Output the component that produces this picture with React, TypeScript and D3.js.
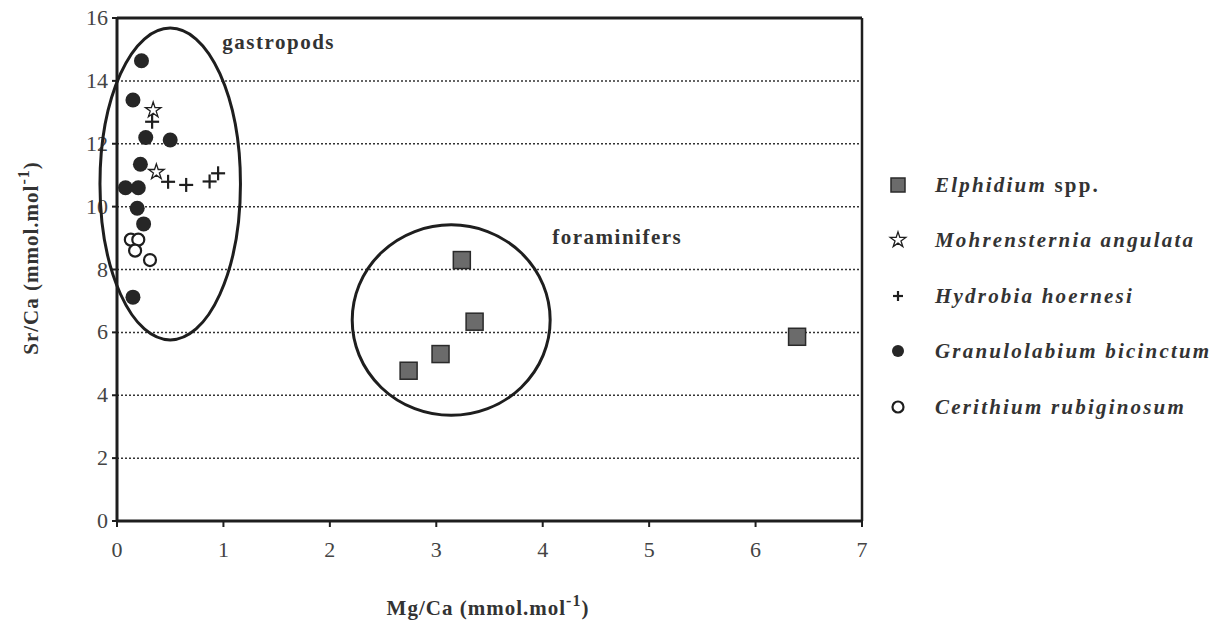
import React from "react";
import * as d3 from "d3";

const xTicks = [0, 1, 2, 3, 4, 5, 6, 7];
const yTicks = [0, 2, 4, 6, 8, 10, 12, 14, 16];

const elphidium: [number, number][] = [
  [3.24, 8.3], [3.36, 6.34], [3.04, 5.31], [2.74, 4.78], [6.39, 5.86],
];
const mohrensternia: [number, number][] = [
  [0.34, 13.07], [0.37, 11.1],
];
const hydrobia: [number, number][] = [
  [0.33, 12.7], [0.48, 10.79], [0.65, 10.69], [0.95, 11.06], [0.87, 10.8],
];
const granulolabium: [number, number][] = [
  [0.23, 14.64], [0.15, 13.39], [0.27, 12.2], [0.5, 12.12], [0.22, 11.35],
  [0.08, 10.6], [0.2, 10.6], [0.19, 9.95], [0.25, 9.45], [0.15, 7.12],
];
const cerithium: [number, number][] = [
  [0.13, 8.95], [0.2, 8.95], [0.17, 8.6], [0.31, 8.3],
];

const legendLabels = [
  ["Elphidium", " spp."],
  ["Mohrensternia angulata", ""],
  ["Hydrobia hoernesi", ""],
  ["Granulolabium bicinctum", ""],
  ["Cerithium rubiginosum", ""],
];

// ellipses: [cx, cy, rx, ry] in data units
const groups = [
  { name: "gastropods", e: [0.5, 10.72, 0.66, 4.96], lx: 0.99, ly: 15.0 },
  { name: "foraminifers", e: [3.14, 6.39, 0.93, 3.03], lx: 4.09, ly: 8.8 },
];

const W = 1231;
const H = 628;
const left = 117;
const right = 862;
const top = 18;
const bottom = 521;

const x = d3.scaleLinear().domain([0, 7]).range([left, right]);
const y = d3.scaleLinear().domain([0, 16]).range([bottom, top]);

const font = "'Liberation Serif', 'Times New Roman', serif";
const ink = "#1e1e1e";

const starPath = d3.symbol().type(d3.symbolStar).size(75)()!;

function Square({ cx, cy, s }: { cx: number; cy: number; s: number }) {
  return (
    <rect x={cx - s / 2} y={cy - s / 2} width={s} height={s} fill="#6b6b6b" stroke="#2a2a2a" strokeWidth={1.5} />
  );
}
function Plus({ cx, cy, r }: { cx: number; cy: number; r: number }) {
  return (
    <g stroke={ink} strokeWidth={2.2}>
      <line x1={cx - r} x2={cx + r} y1={cy} y2={cy} />
      <line x1={cx} x2={cx} y1={cy - r} y2={cy + r} />
    </g>
  );
}
function Star({ cx, cy }: { cx: number; cy: number }) {
  return <path d={starPath} transform={`translate(${cx},${cy})`} fill="white" stroke={ink} strokeWidth={1.3} />;
}

export default function App() {
  const legendY = [185, 240, 296, 351, 407];
  const lx = 898;
  return (
    <svg width={W} height={H} style={{ position: "absolute", left: 0, top: 0, background: "white" }} fontFamily={font}>
      {/* grid */}
      {yTicks.filter((t) => t > 0 && t < 16).map((t) => (
        <line key={t} x1={left} x2={right} y1={y(t)} y2={y(t)} stroke="#333" strokeWidth={1.5} strokeDasharray="2,2" />
      ))}
      {/* frame */}
      <line x1={left} x2={right} y1={top} y2={top} stroke={ink} strokeWidth={3} />
      <line x1={right} x2={right} y1={top} y2={bottom} stroke={ink} strokeWidth={2.5} />
      <line x1={left} x2={right} y1={bottom} y2={bottom} stroke={ink} strokeWidth={3} />
      <line x1={left} x2={left} y1={top} y2={bottom} stroke={ink} strokeWidth={3} />
      {/* ticks */}
      {xTicks.map((t) => (
        <g key={t}>
          <line x1={x(t)} x2={x(t)} y1={bottom} y2={bottom + 6} stroke={ink} strokeWidth={2} />
          <text x={x(t)} y={bottom + 36} textAnchor="middle" fontSize={22} fill="#444">{t}</text>
        </g>
      ))}
      {yTicks.map((t) => (
        <g key={t}>
          <line x1={left - 5} x2={left} y1={y(t)} y2={y(t)} stroke={ink} strokeWidth={2} />
          <text x={left - 9} y={y(t) + 7} textAnchor="end" fontSize={22} fill="#444">{t}</text>
        </g>
      ))}
      {/* axis titles */}
      <text x={488} y={615} textAnchor="middle" fontSize={21} fontWeight="bold" fill="#333" letterSpacing={1}>
        Mg/Ca (mmol.mol<tspan dy={-9} fontSize={16}>-1</tspan><tspan dy={9}>)</tspan>
      </text>
      <text transform="translate(38,258) rotate(-90)" textAnchor="middle" fontSize={21} fontWeight="bold" fill="#333" letterSpacing={1}>
        Sr/Ca (mmol.mol<tspan dy={-9} fontSize={16}>-1</tspan><tspan dy={9}>)</tspan>
      </text>
      {/* group ellipses */}
      {groups.map((g) => (
        <g key={g.name}>
          <ellipse cx={x(g.e[0])} cy={y(g.e[1])} rx={x(g.e[2]) - x(0)} ry={y(0) - y(g.e[3])} fill="none" stroke={ink} strokeWidth={3} />
          <text x={x(g.lx)} y={y(g.ly)} fontSize={21} fontWeight="bold" fill="#333" letterSpacing={1.5}>{g.name}</text>
        </g>
      ))}
      {/* points */}
      {elphidium.map((d, i) => <Square key={"e" + i} cx={x(d[0])} cy={y(d[1])} s={17} />)}
      {granulolabium.map((d, i) => <circle key={"g" + i} cx={x(d[0])} cy={y(d[1])} r={7.5} fill="#262626" />)}
      {cerithium.map((d, i) => <circle key={"c" + i} cx={x(d[0])} cy={y(d[1])} r={6} fill="white" stroke={ink} strokeWidth={2.2} />)}
      {hydrobia.map((d, i) => <Plus key={"h" + i} cx={x(d[0])} cy={y(d[1])} r={7} />)}
      {mohrensternia.map((d, i) => <Star key={"m" + i} cx={x(d[0])} cy={y(d[1])} />)}
      {/* legend */}
      {legendLabels.map((l, i) => {
        const cy = legendY[i];
        return (
          <g key={i}>
            {i === 0 && <Square cx={lx} cy={cy} s={14} />}
            {i === 1 && <Star cx={lx} cy={cy} />}
            {i === 2 && <Plus cx={lx} cy={cy} r={5} />}
            {i === 3 && <circle cx={lx} cy={cy} r={6} fill="#262626" />}
            {i === 4 && <circle cx={lx} cy={cy} r={5.5} fill="white" stroke={ink} strokeWidth={2.2} />}
            <text x={lx + 37} y={cy + 7} fontSize={21} fontWeight="bold" fill="#333" letterSpacing={2.2}>
              <tspan fontStyle="italic">{l[0]}</tspan>{l[1]}
            </text>
          </g>
        );
      })}
    </svg>
  );
}
